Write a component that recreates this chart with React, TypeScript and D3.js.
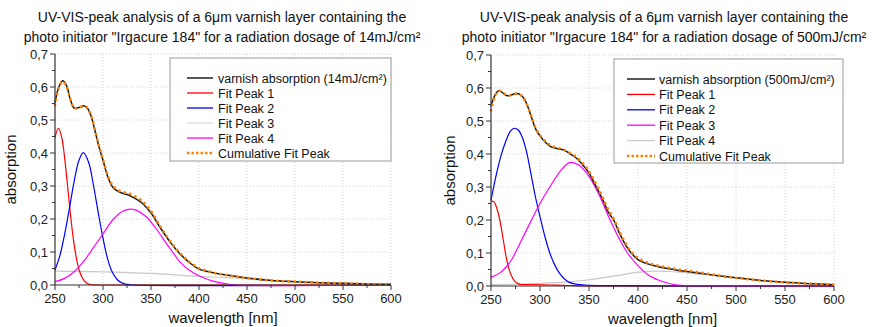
import React from "react";
import * as d3 from "d3";

// ---------- Left chart (14 mJ/cm²) ----------
const L_absX = [250,254,258,262,266,270,275,280,284,288,292,296,300,305,310,315,320,325,330,340,350,360,370,380,390,400,410,420,435,450,475,500,525,550,575,600];
const L_absY = [0.553,0.600,0.619,0.604,0.562,0.536,0.538,0.543,0.535,0.508,0.463,0.417,0.378,0.328,0.297,0.285,0.278,0.274,0.268,0.250,0.218,0.172,0.130,0.095,0.068,0.048,0.040,0.034,0.028,0.021,0.014,0.010,0.007,0.005,0.003,0.002];
const L_cumY = [0.545,0.598,0.617,0.602,0.562,0.536,0.537,0.542,0.536,0.510,0.466,0.420,0.380,0.333,0.302,0.289,0.282,0.279,0.274,0.256,0.224,0.176,0.133,0.097,0.070,0.051,0.041,0.034,0.027,0.021,0.014,0.010,0.007,0.005,0.003,0.002];
const L_p1X = [250,253.5,257,260,263,266,269,272,275,278,281,284,287,290,295,600];
const L_p1Y = [0.447,0.475,0.447,0.386,0.303,0.217,0.142,0.086,0.047,0.024,0.011,0.004,0.0015,0.0005,0,0];
const L_p2X = [250,255,260,265,270,275,279.5,285,290,295,300,305,310,315,320,325,330,600];
const L_p2Y = [0.045,0.088,0.153,0.232,0.315,0.378,0.401,0.372,0.303,0.220,0.142,0.077,0.037,0.016,0.006,0.002,0,0];
const L_p3X = [250,300,350,400,425,450,475,500,525,550,575,600];
const L_p3Y = [0.042,0.040,0.035,0.026,0.023,0.019,0.014,0.010,0.007,0.005,0.003,0.002];
const L_p4X = [250,260,270,280,290,300,310,320,328,335,345,355,365,375,380,390,400,410,420,430,440,600];
const L_p4Y = [0.010,0.020,0.040,0.072,0.113,0.155,0.197,0.223,0.230,0.226,0.207,0.172,0.130,0.090,0.070,0.045,0.028,0.016,0.008,0.003,0,0];

// ---------- Right chart (500 mJ/cm²) ----------
const R_absX = [250,254,258,262,266,270,275,280,284,288,292,296,300,305,310,315,320,325,330,337,344,350,357,364,370,375,381,388,394,400,410,420,430,440,450,465,480,500,525,550,575,600];
const R_absY = [0.545,0.578,0.592,0.585,0.577,0.578,0.583,0.580,0.567,0.540,0.505,0.473,0.455,0.437,0.424,0.418,0.415,0.411,0.402,0.388,0.366,0.342,0.303,0.262,0.222,0.201,0.160,0.121,0.097,0.080,0.067,0.059,0.053,0.048,0.044,0.038,0.032,0.025,0.017,0.011,0.007,0.004];
const R_cumY = [0.532,0.575,0.592,0.586,0.578,0.578,0.582,0.579,0.566,0.540,0.508,0.476,0.457,0.440,0.428,0.421,0.417,0.412,0.404,0.391,0.371,0.348,0.310,0.268,0.230,0.205,0.166,0.126,0.101,0.085,0.070,0.062,0.056,0.051,0.047,0.040,0.033,0.025,0.017,0.011,0.007,0.004];
const R_p1X = [250,253,256,259,262,265,268,271,274,277,280,290,310,330,345,600];
const R_p1Y = [0.257,0.255,0.235,0.200,0.150,0.095,0.055,0.030,0.015,0.008,0.005,0.004,0.003,0.0015,0,0];
const R_p2X = [250,255,260,265,270,274,278,282,286,290,295,300,305,310,315,320,325,330,340,350,400,450,600];
const R_p2Y = [0.260,0.332,0.393,0.438,0.470,0.478,0.472,0.450,0.410,0.352,0.275,0.210,0.150,0.100,0.064,0.038,0.021,0.011,0.004,0.002,0.001,0,0];
const R_p3X = [250,260,270,280,290,300,310,320,330,340,350,360,370,380,390,400,410,420,430,440,450,460,600];
const R_p3Y = [0.026,0.042,0.075,0.132,0.192,0.250,0.300,0.345,0.374,0.366,0.332,0.278,0.210,0.148,0.097,0.062,0.034,0.019,0.009,0.003,0.001,0,0];
const R_p4X = [250,275,300,325,350,375,400,415,430,450,475,500,525,550,575,600];
const R_p4Y = [0.004,0.005,0.008,0.012,0.019,0.030,0.041,0.045,0.044,0.040,0.032,0.024,0.017,0.011,0.007,0.004];

const xTicks = [250, 300, 350, 400, 450, 500, 550, 600];
const yTicks = [0, 0.1, 0.2, 0.3, 0.4, 0.5, 0.6, 0.7];
const titleLine1 = "UV-VIS-peak analysis of a 6\u03BCm varnish layer containing the";
const L_title2 = "photo initiator \"Irgacure 184\" for a radiation dosage of 14mJ/cm\u00B2";
const R_title2 = "photo initiator \"Irgacure 184\" for a radiation dosage of 500mJ/cm\u00B2";
const xLabel = "wavelength [nm]";
const yLabel = "absorption";
const L_legend = ["varnish absorption (14mJ/cm\u00B2)", "Fit Peak 1", "Fit Peak 2", "Fit Peak 3", "Fit Peak 4", "Cumulative Fit Peak"];
const R_legend = ["varnish absorption (500mJ/cm\u00B2)", "Fit Peak 1", "Fit Peak 2", "Fit Peak 3", "Fit Peak 4", "Cumulative Fit Peak"];

const RED = "#ff0000", BLUE = "#0000ff", MAG = "#ff00ff", GRAY = "#c8c8c8", ORANGE = "#ff8000", BLACK = "#1a1a1a";
const FONT = "'Liberation Sans', Arial, sans-serif";

type Series = { x: number[]; y: number[]; color: string; width: number; dash?: string };

type ChartCfg = {
  left: number; right: number; top: number; bottom: number;
  titleX: number; title2: string;
  legend: string[]; legendColors: string[];
  box: [number, number, number, number];
  legendY0: number; legendDy: number; lineX0: number; lineX1: number; textX: number;
  ylabX: number; xlabY: number;
  fits: Series[]; abs: Series; cum: Series;
};

function Chart({ c }: { c: ChartCfg }) {
  const x = d3.scaleLinear().domain([250, 600]).range([c.left, c.right]);
  const y = d3.scaleLinear().domain([0, 0.7]).range([c.bottom, c.top]);
  const mk = (s: Series) => {
    const pts: [number, number][] = s.x.map((v, i) => [x(v), y(s.y[i])]);
    return d3.line().curve(d3.curveCatmullRom.alpha(0.5))(pts) || "";
  };
  const minorX = d3.range(275, 600, 50);
  const minorY = d3.range(0.05, 0.7, 0.1);
  const axisColor = "#333";
  return (
    <g fontFamily={FONT}>
      <text x={c.titleX} y={22} textAnchor="middle" fontSize={14} fill="#111">{titleLine1}</text>
      <text x={c.titleX} y={42} textAnchor="middle" fontSize={14} fill="#111">{c.title2}</text>
      {xTicks.slice(1).map((t) => (
        <line key={"gx" + t} x1={x(t)} x2={x(t)} y1={c.top} y2={c.bottom} stroke="#d4d4d4" strokeWidth={1} strokeDasharray="1 2" />
      ))}
      {yTicks.slice(1).map((t) => (
        <line key={"gy" + t} x1={c.left} x2={c.right} y1={y(t)} y2={y(t)} stroke="#d4d4d4" strokeWidth={1} strokeDasharray="1 2" />
      ))}
      {c.fits.map((s, i) => (
        <path key={"f" + i} d={mk(s)} fill="none" stroke={s.color} strokeWidth={s.width} />
      ))}
      <path d={mk(c.abs)} fill="none" stroke={c.abs.color} strokeWidth={c.abs.width} />
      <path d={mk(c.cum)} fill="none" stroke={c.cum.color} strokeWidth={c.cum.width} strokeDasharray={c.cum.dash} strokeLinecap="round" />
      <line x1={c.left} x2={c.left} y1={c.top} y2={c.bottom} stroke={axisColor} strokeWidth={1.2} />
      <line x1={c.left} x2={c.right} y1={c.bottom} y2={c.bottom} stroke={axisColor} strokeWidth={1.2} />
      {xTicks.map((t) => (
        <g key={"xt" + t}>
          <line x1={x(t)} x2={x(t)} y1={c.bottom} y2={c.bottom + 5} stroke={axisColor} strokeWidth={1} />
          <text x={x(t)} y={c.bottom + 18} textAnchor="middle" fontSize={13} fill="#222">{t}</text>
        </g>
      ))}
      {minorX.map((t) => (
        <line key={"mx" + t} x1={x(t)} x2={x(t)} y1={c.bottom} y2={c.bottom + 3} stroke={axisColor} strokeWidth={1} />
      ))}
      {yTicks.map((t) => (
        <g key={"yt" + t}>
          <line x1={c.left - 5} x2={c.left} y1={y(t)} y2={y(t)} stroke={axisColor} strokeWidth={1} />
          <text x={c.left - 7} y={y(t) + 4.5} textAnchor="end" fontSize={13} fill="#222">{t.toFixed(1).replace(".", ",")}</text>
        </g>
      ))}
      {minorY.map((t) => (
        <line key={"my" + t} x1={c.left - 3} x2={c.left} y1={y(t)} y2={y(t)} stroke={axisColor} strokeWidth={1} />
      ))}
      <text x={(c.left + c.right) / 2} y={c.xlabY} textAnchor="middle" fontSize={15} fill="#111">{xLabel}</text>
      <text transform={`translate(${c.ylabX},${(c.top + c.bottom) / 2}) rotate(-90)`} textAnchor="middle" fontSize={15} fill="#111">{yLabel}</text>
      <rect x={c.box[0]} y={c.box[1]} width={c.box[2] - c.box[0]} height={c.box[3] - c.box[1]} fill="#fff" stroke="#999" strokeWidth={1} />
      {c.legend.map((lab, i) => {
        const yy = c.legendY0 + i * c.legendDy;
        const isCum = i === c.legend.length - 1;
        return (
          <g key={"lg" + i}>
            <line x1={c.lineX0} x2={c.lineX1} y1={yy} y2={yy} stroke={c.legendColors[i]} strokeWidth={isCum ? 2.5 : i === 0 ? 1.8 : 1.3} strokeDasharray={isCum ? "2.5 2" : undefined} />
            <text x={c.textX} y={yy + 4.5} fontSize={12.5} fill="#111">{lab}</text>
          </g>
        );
      })}
    </g>
  );
}

export default function App() {
  const left: ChartCfg = {
    left: 55, right: 391, top: 54, bottom: 285,
    titleX: 222, title2: L_title2,
    legend: L_legend, legendColors: ["#444", RED, BLUE, "#dcdcdc", MAG, ORANGE],
    box: [170, 58, 391, 161], legendY0: 78, legendDy: 15, lineX0: 187, lineX1: 213, textX: 218,
    ylabX: 16, xlabY: 323,
    fits: [
      { x: L_p3X, y: L_p3Y, color: GRAY, width: 1.2 },
      { x: L_p1X, y: L_p1Y, color: RED, width: 1.2 },
      { x: L_p2X, y: L_p2Y, color: BLUE, width: 1.2 },
      { x: L_p4X, y: L_p4Y, color: MAG, width: 1.2 },
    ],
    abs: { x: L_absX, y: L_absY, color: BLACK, width: 1.5 },
    cum: { x: L_absX, y: L_cumY, color: ORANGE, width: 2.8, dash: "0.1 5.6" },
  };
  const right: ChartCfg = {
    left: 491, right: 834, top: 55, bottom: 286,
    titleX: 664, title2: R_title2,
    legend: R_legend, legendColors: ["#444", RED, BLUE, MAG, "#c8c8c8", ORANGE],
    box: [614, 59, 843, 163], legendY0: 79, legendDy: 15.4, lineX0: 627, lineX1: 655, textX: 659,
    ylabX: 455, xlabY: 324,
    fits: [
      { x: R_p4X, y: R_p4Y, color: GRAY, width: 1.2 },
      { x: R_p1X, y: R_p1Y, color: RED, width: 1.2 },
      { x: R_p2X, y: R_p2Y, color: BLUE, width: 1.2 },
      { x: R_p3X, y: R_p3Y, color: MAG, width: 1.2 },
    ],
    abs: { x: R_absX, y: R_absY, color: BLACK, width: 1.5 },
    cum: { x: R_absX, y: R_cumY, color: ORANGE, width: 2.8, dash: "0.1 5.6" },
  };
  return (
    <svg width={879} height={327} style={{ position: "absolute", left: 0, top: 0, background: "#fff" }}>
      <rect x={0} y={0} width={879} height={327} fill="#fff" />
      <Chart c={left} />
      <Chart c={right} />
    </svg>
  );
}
